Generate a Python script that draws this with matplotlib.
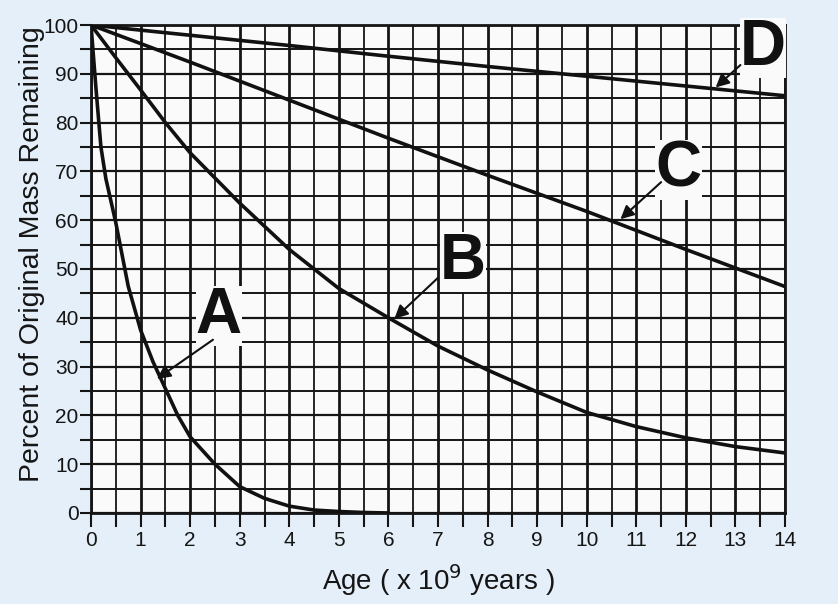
import numpy as np
import matplotlib.pyplot as plt

plt.rcParams['font.family'] = ['Liberation Sans', 'DejaVu Sans']

# values (age in 10^9 years, percent remaining)
age_a = [0, 0.1, 0.2, 0.3, 0.5, 0.75, 1, 1.25, 1.5, 1.75, 2, 2.5, 3, 3.5, 4, 4.5, 5, 5.5, 6]
mass_a = [100, 87, 75, 68.5, 59.5, 46.5, 37.5, 31, 25.5, 20, 15.6, 10, 5.4, 3, 1.4, 0.6, 0.3, 0.1, 0]

age_b = [0, 0.5, 1, 1.5, 2, 3, 4, 4.5, 5, 6, 7, 8, 9, 10, 11, 12, 13, 14]
mass_b = [100, 93.3, 86.7, 80, 73.8, 63.5, 54, 50, 46, 40, 34.2, 29.3, 24.8, 20.6, 17.7, 15.4, 13.6, 12.3]

age_c = [0, 2, 4, 6, 8, 10, 12, 14]
mass_c = [100, 92.4, 84.6, 76.8, 69.2, 61.8, 54, 46.4]

age_d = [0, 2, 4, 6, 8, 10, 12, 14]
mass_d = [100, 97.9, 95.8, 93.6, 91.5, 89.5, 87.5, 85.5]

xticks = list(range(0, 15))
yticks = list(range(0, 101, 10))

# curve labels: (letter, text pos, arrow tail, arrow head)
labels = [
    ('A', (2.58, 40.3), (2.46, 35.5), (1.33, 27.5)),
    ('B', (7.5, 51.5), (7.0, 48.2), (6.12, 39.8)),
    ('C', (11.85, 70.3), (11.5, 67.8), (10.68, 60.2)),
    ('D', (13.55, 95.2), (13.1, 91.8), (12.6, 87.2)),
]

fig = plt.figure(figsize=(8.38, 6.04), dpi=100, facecolor='#e5eff9')
ax = fig.add_axes([0.1086, 0.1507, 0.8282, 0.8079])
ax.set_facecolor('#fafafa')

# grid: every 0.5 in x, every 5 in y
for x in np.arange(0, 14.01, 0.5):
    lw = 2.0 if x % 1 == 0 else 1.3
    ax.axvline(x, color='#151515', lw=lw, zorder=1)
for y in range(0, 101, 5):
    lw = 1.6 if y % 10 == 0 else 1.4
    ax.axhline(y, color='#151515', lw=lw, zorder=1)

for xs, ys in [(age_a, mass_a), (age_b, mass_b), (age_c, mass_c), (age_d, mass_d)]:
    ax.plot(xs, ys, color='#111111', lw=2.6, zorder=3,
            solid_capstyle='round', solid_joinstyle='round')

for letter, tpos, tail, head in labels:
    ax.text(tpos[0], tpos[1], letter, fontsize=46, fontweight='bold',
            ha='center', va='center', color='#111111', zorder=5,
            bbox=dict(facecolor='#fafafa', edgecolor='none', pad=0))
    ax.annotate('', xy=head, xytext=tail, zorder=5,
                arrowprops=dict(arrowstyle='-|>', color='#111111', lw=1.5,
                                mutation_scale=20, shrinkA=0, shrinkB=0))

ax.set_xlim(0, 14)
ax.set_ylim(0, 100)
ax.set_xticks(xticks)
ax.set_xticks(np.arange(0.5, 14, 1), minor=True)
ax.set_yticks(yticks)
ax.set_yticks(np.arange(5, 100, 10), minor=True)
ax.tick_params(axis='both', which='both', direction='out', color='#151515',
               width=1.5, labelsize=15, labelcolor='#151515')
ax.tick_params(axis='x', which='both', length=10, pad=3)
ax.tick_params(axis='y', which='both', length=8, pad=1)

for s in ax.spines.values():
    s.set_color('#151515')
    s.set_linewidth(2)

ax.set_xlabel('Age ( x 10$^9$ years )', fontsize=20, color='#151515', labelpad=9)
fig.text(32 / 838, 1 - 254 / 604, 'Percent of Original Mass Remaining', fontsize=20.5,
         color='#151515', rotation=90, ha='center', va='center')

fig.savefig('out.png', dpi=100, facecolor=fig.get_facecolor())
